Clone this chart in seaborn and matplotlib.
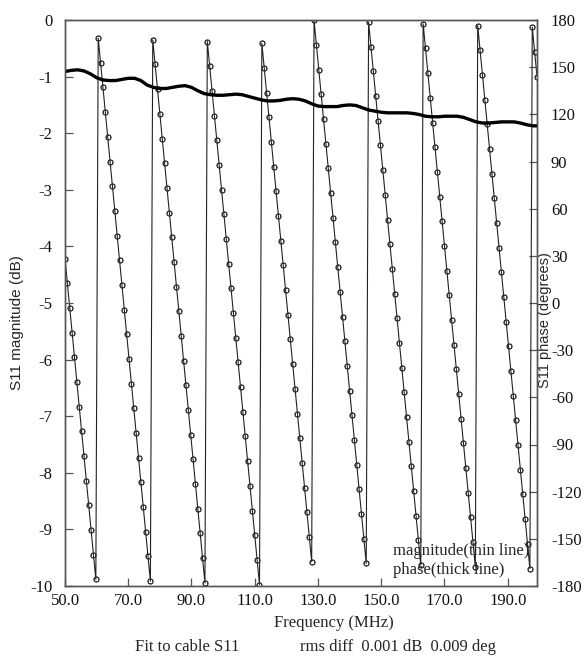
import numpy as np
import pandas as pd
import matplotlib
matplotlib.use("Agg")
import matplotlib.pyplot as plt
import seaborn as sns

# ---------------- data ----------------
# phase sweep: 200 points, 50 MHz start, 0.75 MHz step
FREQ_START = 50.0
FREQ_STEP = 0.75
phase_deg = [
    28.3, 12.6, -3.1, -18.8, -34.5, -50.2, -65.9, -81.6, -97.3, -113.0,
    -128.7, -144.4, -160.1, -175.8, 168.5, 152.8, 137.1, 121.4, 105.7, 90.0,
    74.3, 58.6, 42.9, 27.2, 11.5, -4.2, -19.9, -35.6, -51.3, -67.0,
    -82.7, -98.4, -114.1, -129.8, -145.5, -161.2, -176.9, 167.4, 151.7, 136.0,
    120.3, 104.6, 88.9, 73.2, 57.5, 41.8, 26.1, 10.4, -5.3, -21.0,
    -36.7, -52.4, -68.1, -83.8, -99.5, -115.2, -130.9, -146.6, -162.3, -178.0,
    166.3, 150.6, 134.9, 119.2, 103.5, 87.8, 72.1, 56.4, 40.7, 25.0,
    9.3, -6.4, -22.1, -37.8, -53.5, -69.2, -84.9, -100.6, -116.3, -132.0,
    -147.7, -163.4, -179.1, 165.2, 149.5, 133.8, 118.1, 102.4, 86.7, 71.0,
    55.3, 39.6, 23.9, 8.2, -7.5, -23.2, -38.9, -54.6, -70.3, -86.0,
    -101.7, -117.4, -133.1, -148.8, -164.5, 179.8, 164.1, 148.4, 132.7, 117.0,
    101.3, 85.6, 69.9, 54.2, 38.5, 22.8, 7.1, -8.6, -24.3, -40.0,
    -55.7, -71.4, -87.1, -102.8, -118.5, -134.2, -149.9, -165.6, 178.7, 163.0,
    147.3, 131.6, 115.9, 100.2, 84.5, 68.8, 53.1, 37.4, 21.7, 6.0,
    -9.7, -25.4, -41.1, -56.8, -72.5, -88.2, -103.9, -119.6, -135.3, -151.0,
    -166.7, 177.6, 161.9, 146.2, 130.5, 114.8, 99.1, 83.4, 67.7, 52.0,
    36.3, 20.6, 4.9, -10.8, -26.5, -42.2, -57.9, -73.6, -89.3, -105.0,
    -120.7, -136.4, -152.1, -167.8, 176.5, 160.8, 145.1, 129.4, 113.7, 98.0,
    82.3, 66.6, 50.9, 35.2, 19.5, 3.8, -11.9, -27.6, -43.3, -59.0,
    -74.7, -90.4, -106.1, -121.8, -137.5, -153.2, -168.9, 175.4, 159.7, 144.0,
]

mag_freq = [50, 52, 54, 56, 58, 60, 62, 64, 66, 68, 70, 72, 74, 76, 78, 80,
            82, 84, 86, 88, 90, 92, 94, 96, 98, 100, 102, 104, 106, 108, 110,
            112, 114, 116, 118, 120, 122, 124, 126, 128, 130, 132, 134, 136,
            138, 140, 142, 144, 146, 148, 150, 152, 154, 156, 158, 160, 162,
            164, 166, 168, 170, 172, 174, 176, 178, 180, 182, 184, 186, 188,
            190, 192, 194, 196, 198, 199.25]
mag_db = [-0.91, -0.89, -0.88, -0.90, -0.95, -1.02, -1.06, -1.07, -1.07, -1.05,
          -1.03, -1.03, -1.07, -1.15, -1.19, -1.21, -1.21, -1.19, -1.17, -1.16,
          -1.19, -1.25, -1.30, -1.32, -1.33, -1.33, -1.32, -1.31, -1.32, -1.35,
          -1.38, -1.41, -1.43, -1.43, -1.42, -1.40, -1.39, -1.40, -1.43, -1.48,
          -1.52, -1.53, -1.53, -1.53, -1.51, -1.50, -1.51, -1.55, -1.59, -1.61,
          -1.63, -1.64, -1.64, -1.64, -1.64, -1.65, -1.67, -1.70, -1.71, -1.71,
          -1.70, -1.70, -1.70, -1.72, -1.76, -1.80, -1.82, -1.82, -1.81, -1.80,
          -1.80, -1.80, -1.82, -1.85, -1.87, -1.87]

x_ticks = [50, 70, 90, 110, 130, 150, 170, 190]
x_ticklabels = ["50.0", "70.0", "90.0", "110.0", "130.0", "150.0", "170.0", "190.0"]
mag_ticks = [0, -1, -2, -3, -4, -5, -6, -7, -8, -9, -10]
mag_ticklabels = ["0", "-1", "-2", "-3", "-4", "-5", "-6", "-7", "-8", "-9", "-10"]
phase_ticks = [180, 150, 120, 90, 60, 30, 0, -30, -60, -90, -120, -150, -180]
phase_ticklabels = ["180", "150", "120", "90", "60", "30", "0", "-30", "-60",
                    "-90", "-120", "-150", "-180"]

phase_freq = FREQ_START + FREQ_STEP * np.arange(len(phase_deg))
df_phase = pd.DataFrame({"f": phase_freq, "phase": phase_deg})
df_mag = pd.DataFrame({"f": mag_freq, "mag": mag_db})

# ---------------- figure ----------------
sns.set_style("ticks")
plt.rcParams["font.family"] = ["Liberation Serif", "DejaVu Serif"]

W, H = 585, 661
fig = plt.figure(figsize=(W / 100, H / 100), dpi=100)
L, R, T, B = 65, 537, 20, 586
ax = fig.add_axes([L / W, 1 - B / H, (R - L) / W, (B - T) / H])
ax2 = ax.twinx()

frame_col = "#555555"

# phase (thin line with markers) on right axis: measured (circles) and fit (squares)
sns.lineplot(data=df_phase, x="f", y="phase", ax=ax2, color="#222222",
             linewidth=0.8, marker="o", markersize=3.8, markerfacecolor="none",
             markeredgecolor="#222222", markeredgewidth=0.7, sort=False,
             estimator=None)
sns.lineplot(data=df_phase, x="f", y="phase", ax=ax2, color="#222222",
             linewidth=0, marker="s", markersize=2.8, markerfacecolor="none",
             markeredgecolor="#333333", markeredgewidth=0.6, sort=False,
             estimator=None)

# magnitude (thick line) on left axis
sns.lineplot(data=df_mag, x="f", y="mag", ax=ax, color="black",
             linewidth=2.4, sort=False, estimator=None)

ax.set_zorder(ax2.get_zorder() + 1)
ax.patch.set_visible(False)

ax.set_xlim(50, 199.25)
ax.set_ylim(-10, 0)
ax2.set_ylim(-180, 180)

ax.set_xticks(x_ticks)
ax.set_xticklabels(x_ticklabels)
ax.set_yticks(mag_ticks)
ax.set_yticklabels(mag_ticklabels)
ax2.set_yticks(phase_ticks)
ax2.set_yticklabels(phase_ticklabels)

ax.tick_params(axis="both", direction="in", length=6, width=0.9,
               color=frame_col, labelsize=12, labelcolor="#111111")
ax.tick_params(axis="y", pad=9)
ax.tick_params(axis="x", pad=5, top=False)
ax2.tick_params(axis="y", direction="in", length=6, width=0.9,
                color=frame_col, labelsize=12, labelcolor="#111111", pad=10)

for a in (ax, ax2):
    for s in a.spines.values():
        s.set_visible(True)
        s.set_color(frame_col)
        s.set_linewidth(1.0)

ax.set_xlabel("")
ax.set_ylabel("S11 magnitude (dB)", family=["Liberation Sans", "DejaVu Sans"],
              fontsize=11)
ax.yaxis.set_label_coords(-0.087, 0.466)
ax2.set_ylabel("S11 phase (degrees)", family=["Liberation Sans", "DejaVu Sans"],
               fontsize=10.5, rotation=90)
ax2.yaxis.set_label_coords(1.002, 0.47)

fig.text(334 / W, 1 - 623 / H, "Frequency (MHz)", ha="center", va="center",
         fontsize=12)
fig.text(135 / W, 1 - 647 / H, "Fit to cable S11", ha="left", va="center",
         fontsize=12)
fig.text(300 / W, 1 - 647 / H, "rms diff  0.001 dB  0.009 deg", ha="left",
         va="center", fontsize=12)

ax.text((393 - L) / (R - L), (B - 551) / (B - T), "magnitude(thin line)",
        transform=ax.transAxes, ha="left", va="center", fontsize=12, zorder=10)
ax.text((393 - L) / (R - L), (B - 570) / (B - T), "phase(thick line)",
        transform=ax.transAxes, ha="left", va="center", fontsize=12, zorder=10)

fig.savefig("out.png", dpi=100)
